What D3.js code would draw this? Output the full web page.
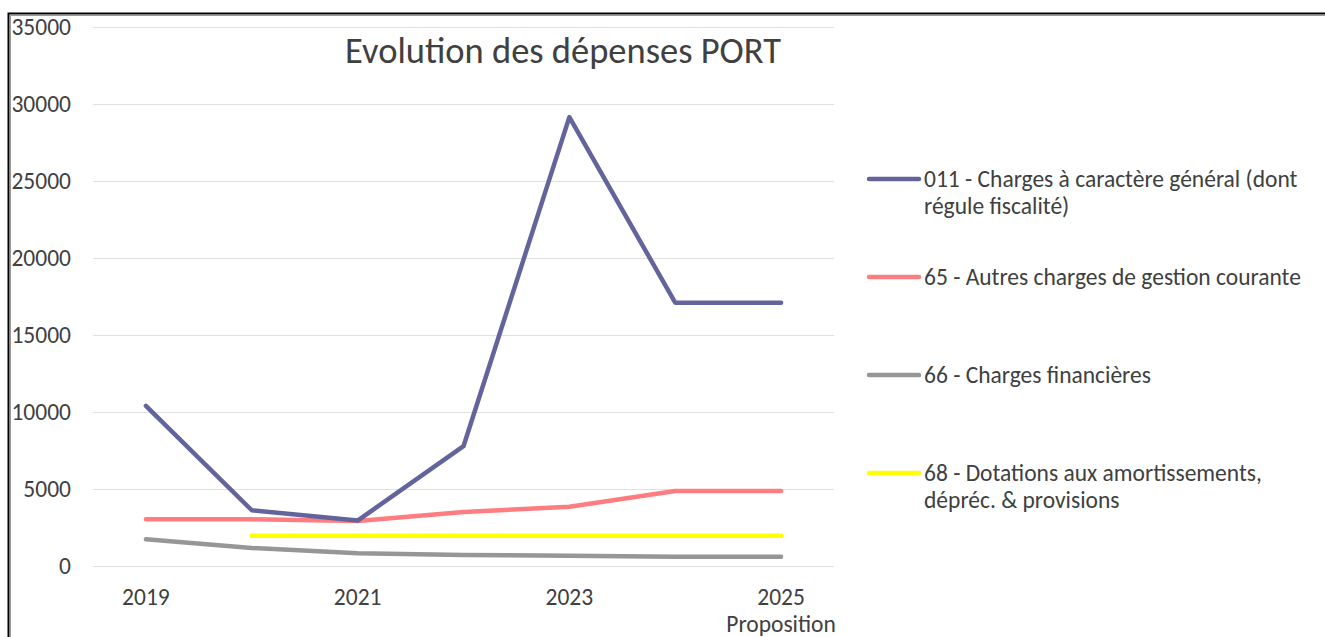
<!DOCTYPE html>
<html>
<head>
<meta charset="utf-8">
<script src="https://cdn.jsdelivr.net/npm/d3@7"></script>
<style>
  body { margin: 0; background: #fff; overflow: hidden; }
  text { font-family: Carlito, Calibri, "Open Sans", sans-serif; fill: #404040; }
</style>
</head>
<body>
<script>
var years = ["2019", "2020", "2021", "2022", "2023", "2024", "2025 Proposition"];
var yTicks = [0, 5000, 10000, 15000, 20000, 25000, 30000, 35000];

var s011 = [10400, 3620, 2950, 7780, 29150, 17100, 17100];
var s65 = [3030, 3030, 2920, 3500, 3850, 4870, 4870];
var s66 = [1730, 1170, 820, 720, 660, 600, 600];
var s68 = [null, 1970, 1970, 1970, 1970, 1970, 1970];

var seriesNames = [
  ["011 - Charges à caractère général (dont", "régule fiscalité)"],
  ["65 - Autres charges de gestion courante"],
  ["66 - Charges financières"],
  ["68 - Dotations aux amortissements,", "dépréc. & provisions"]
];
var seriesColors = ["#64649c", "#ff7c80", "#969696", "#ffff00"];
var seriesValues = [s011, s65, s66, s68];

var width = 1325;
var height = 637;

var svg = d3.select("body")
            .append("svg")
               .attr("width", width)
               .attr("height", height)
               .style("display", "block");

// outer frame (only top and left are visible)
svg.append("path")
   .attr("d", "M8.5,637 V13.5 H1325")
   .attr("fill", "none")
   .attr("stroke", "#000")
   .attr("stroke-width", 2);
svg.append("path")
   .attr("d", "M10.5,637 V15.5 H1325")
   .attr("fill", "none")
   .attr("stroke", "#999")
   .attr("stroke-width", 1);

var x = d3.scaleBand()
         .domain(years)
         .range([93, 834]);

var y = d3.scaleLinear()
         .domain([0, 35000])
         .range([566, 27]);

// gridlines
svg.append("g")
   .selectAll("line")
   .data(yTicks)
   .enter().append("line")
      .attr("x1", 93)
      .attr("x2", 834)
      .attr("y1", function(d) { return y(d) + 0.5; })
      .attr("y2", function(d) { return y(d) + 0.5; })
      .attr("stroke", "#e0e0e0")
      .attr("stroke-width", 1);

// y axis labels
svg.append("g")
   .selectAll("text")
   .data(yTicks)
   .enter().append("text")
      .attr("x", 71)
      .attr("y", function(d) { return y(d) + 8; })
      .attr("text-anchor", "end")
      .style("font-size", "23.5px")
      .text(function(d) { return d; });

// x axis labels, every other category
var xl = svg.append("g")
   .selectAll("text")
   .data(years.filter(function(d, i) { return i % 2 == 0; }))
   .enter().append("text")
      .attr("text-anchor", "middle")
      .style("font-size", "23.5px")
      .attr("transform", function(d) {
         return "translate(" + (x(d) + x.bandwidth() / 2) + ",605)";
      });

xl.each(function(d) {
   var parts = d.split(" ");
   var t = d3.select(this);
   parts.forEach(function(p, i) {
      t.append("tspan")
         .attr("x", 0)
         .attr("dy", i == 0 ? 0 : 27)
         .text(p);
   });
});

// lines
var line = d3.line()
   .defined(function(d) { return d != null; })
   .x(function(d, i) { return x(years[i]) + x.bandwidth() / 2; })
   .y(function(d) { return y(d); });

// yellow first, purple on top
[3, 2, 1, 0].forEach(function(k) {
   svg.append("path")
      .datum(seriesValues[k])
      .attr("d", line)
      .attr("fill", "none")
      .attr("stroke", seriesColors[k])
      .attr("stroke-width", 4.5)
      .attr("stroke-linejoin", "round")
      .attr("stroke-linecap", "round");
});

// title
svg.append("text")
   .attr("x", 563)
   .attr("y", 63)
   .attr("text-anchor", "middle")
   .style("font-size", "36.5px")
   .text("Evolution des dépenses PORT");

// legend
var legend = svg.append("g")
   .selectAll("g")
   .data(seriesNames)
   .enter().append("g")
      .attr("transform", function(d, i) { return "translate(0," + (179 + i * 98) + ")"; });

legend.append("line")
   .attr("x1", 869)
   .attr("x2", 919)
   .attr("stroke", function(d, i) { return seriesColors[i]; })
   .attr("stroke-width", 4.5)
   .attr("stroke-linecap", "round");

legend.append("text")
   .style("font-size", "23.5px")
   .attr("y", 8)
   .each(function(d) {
      var t = d3.select(this);
      d.forEach(function(p, i) {
         t.append("tspan")
            .attr("x", 924)
            .attr("dy", i == 0 ? 0 : 27)
            .text(p);
      });
   });
</script>
</body>
</html>
